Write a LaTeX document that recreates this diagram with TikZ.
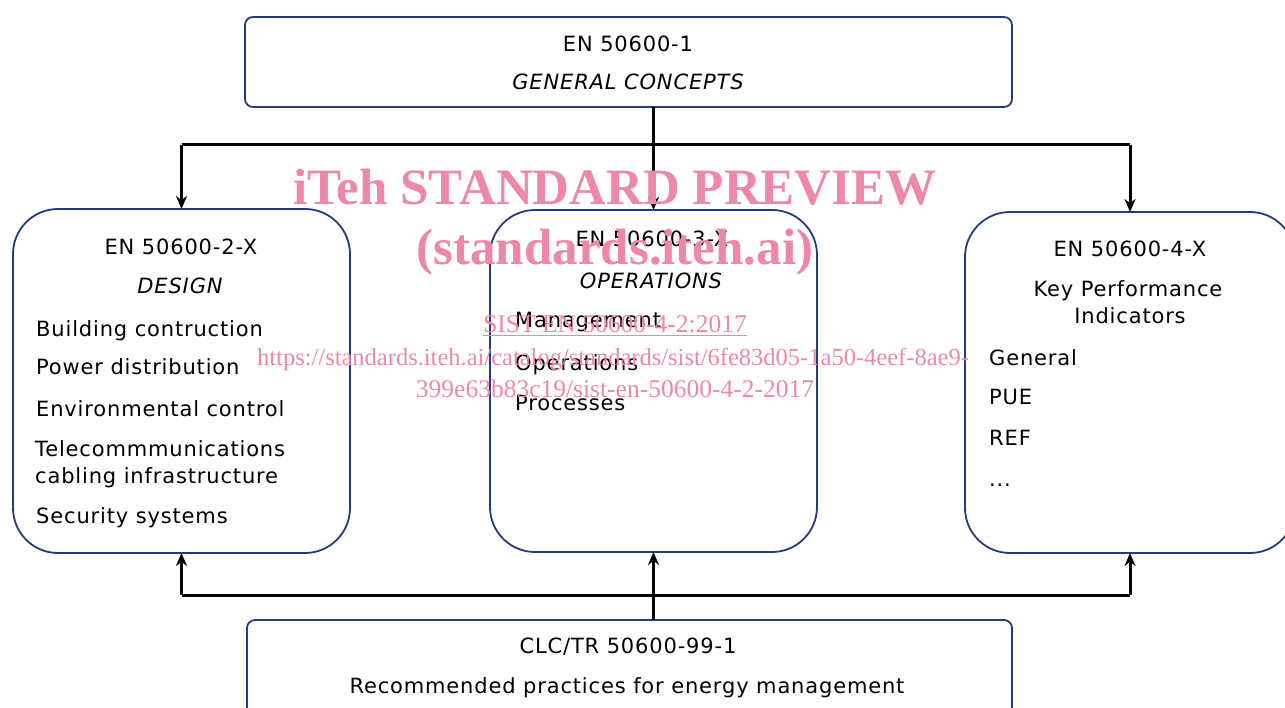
\documentclass[tikz,border=0pt]{standalone}
\usepackage{fontspec}
\setmainfont[LetterSpace=4]{DejaVu Sans}
\newfontfamily\wmfont{Liberation Serif}
\usetikzlibrary{arrows.meta}
\definecolor{boxblue}{RGB}{38,58,128}
\definecolor{wmpink}{RGB}{238,136,168}
\begin{document}
\begin{tikzpicture}[x=1pt,y=-1pt,
  box/.style={draw=boxblue,line width=1.8pt,rounded corners=#1,outer sep=0pt,inner sep=0pt},
  ln/.style={line width=3pt},
  arr/.style={line width=3pt,-{Stealth[length=13pt,width=11pt]}},
  lbl/.style={font=\fontsize{21}{25}\selectfont,inner sep=0pt,anchor=base},
  item/.style={lbl,anchor=base west},
  wmbig/.style={font=\wmfont\bfseries\fontsize{51}{55}\selectfont,text=wmpink,inner sep=0pt,anchor=base},
  wmsmall/.style={font=\wmfont\fontsize{25.5}{28}\selectfont,text=wmpink,inner sep=0pt,anchor=base}]
\useasboundingbox (0,0) rectangle (1285,708);
% boxes
\node[box=8pt,minimum width=767pt,minimum height=90pt] (top) at (628.5,62) {};
\node[box=45pt,minimum width=337pt,minimum height=344pt] (left) at (181.5,381) {};
\node[box=45pt,minimum width=327pt,minimum height=342pt] (mid) at (653.5,381) {};
\node[box=45pt,minimum width=330pt,minimum height=341pt] (right) at (1130,382.5) {};
\node[box=8pt,minimum width=765pt,minimum height=100pt] (bot) at (629.5,670) {};
% connectors
\coordinate (jt) at (655,145);
\coordinate (jb) at (655,595);
\draw[arr] (top.south -| mid.north) -- (mid.north);
\draw[ln] (left.north |- jt) -- (right.north |- jt);
\draw[arr] (left.north |- jt) -- (left.north);
\draw[arr] (right.north |- jt) -- (right.north);
\draw[ln] (left.south |- jb) -- (right.south |- jb);
\draw[arr] (left.south |- jb) -- (left.south);
\draw[arr] (right.south |- jb) -- (right.south);
\draw[arr] (bot.north -| mid.south) -- (mid.south);
% top texts
\node[lbl] (t1) at (628,52) {EN 50600-1};
\node[lbl] (t2) at (628,90) {\itshape GENERAL CONCEPTS};
% left texts
\node[lbl] (l1) at (181,255) {EN 50600-2-X};
\node[lbl] (l2) at (180,294) {\itshape DESIGN};
\node[item] (l3) at (36,337) {Building contruction};
\node[item] (l4) at (36,375) {Power distribution};
\node[item] (l5) at (36,417) {Environmental control};
\node[item] (l6) at (35,456) {Telecommmunications};
\node[item] (l7) at (35,483) {cabling infrastructure};
\node[item] (l8) at (36,523) {Security systems};
% middle texts
\node[lbl] (m1) at (652,247) {EN 50600-3-X};
\node[lbl] (m2) at (651,289) {\itshape OPERATIONS};
\node[item] (m3) at (515,328) {Management};
\node[item] (m4) at (515,371) {Operations};
\node[item] (m5) at (515,410) {Processes};
% right texts
\node[lbl] (r1) at (1130,257) {EN 50600-4-X};
\node[lbl] (r2) at (1128,297) {Key Performance};
\node[lbl] (r3) at (1130,324) {Indicators};
\node[item] (r4) at (989,366) {General};
\node[item] (r5) at (989,405) {PUE};
\node[item] (r6) at (989,445) {REF};
\node[item] (r7) at (989,486) {...};
% bottom texts
\node[lbl] (b1) at (628,653) {CLC/TR 50600-99-1};
\node[lbl] (b2) at (627,693) {Recommended practices for energy management};
% watermark
\node[wmbig] (w1) at (615,205) {iTeh STANDARD PREVIEW};
\node[wmbig] (w2) at (615,265) {(standards.iteh.ai)};
\node[wmsmall] (w3) at (615,333) {\underline{SIST EN 50600-4-2:2017}};
\node[wmsmall,font=\wmfont\fontsize{24.5}{28}\selectfont] (w4) at (613,366) {https://standards.iteh.ai/catalog/standards/sist/6fe83d05-1a50-4eef-8ae9-};
\node[wmsmall] (w5) at (615,398) {399e63b83c19/sist-en-50600-4-2-2017};
\end{tikzpicture}
\end{document}
